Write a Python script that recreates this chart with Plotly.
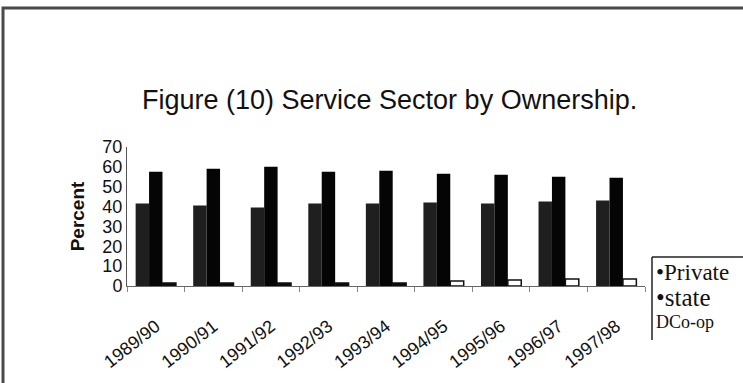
import plotly.graph_objects as go

years = ["1989/90", "1990/91", "1991/92", "1992/93", "1993/94",
         "1994/95", "1995/96", "1996/97", "1997/98"]
private = [41.5, 40.5, 39.5, 41.5, 41.5, 42, 41.5, 42.5, 43]
state = [57.5, 59, 60, 57.5, 58, 56.5, 56, 55, 54.5]
coop = [1.5, 1.5, 1.5, 1.5, 1.5, 2.5, 3, 3.5, 3.5]
coop_colors = ["#0a0a0a"] * 5 + ["#ffffff"] * 4
legend_labels = ["\u2022Private", "\u2022state", "DCo-op"]
yticks = [0, 10, 20, 30, 40, 50, 60, 70]

W, H = 743, 383
L, R, T, B = 127, 645, 147, 286


def px(x):
    return (x - L) / (R - L)


def py(y):
    return (B - y) / (B - T)


fig = go.Figure()
fig.add_trace(go.Bar(x=years, y=private, name="Private",
                     marker=dict(color="#1f1f1f", line=dict(width=0))))
fig.add_trace(go.Bar(x=years, y=state, name="state",
                     marker=dict(color="#050505", line=dict(width=0))))
fig.add_trace(go.Bar(x=years, y=coop, name="Co-op",
                     marker=dict(color=coop_colors,
                                 line=dict(color="#111111", width=1.5))))

shapes = [
    dict(type="rect", xref="paper", yref="paper",
         x0=px(3), x1=px(760), y0=py(400), y1=py(8),
         line=dict(color="#4a4a4a", width=3), fillcolor="rgba(0,0,0,0)",
         layer="below"),
    dict(type="line", xref="paper", yref="paper",
         x0=px(652), x1=px(652), y0=py(257), y1=py(340),
         line=dict(color="#222222", width=1.5)),
    dict(type="line", xref="paper", yref="paper",
         x0=px(652), x1=px(760), y0=py(257), y1=py(257),
         line=dict(color="#222222", width=1.5)),
]

annotations = [
    dict(text="Figure (10) Service Sector by Ownership.", xref="paper", yref="paper",
         x=px(389), y=py(100), showarrow=False, xanchor="center", yanchor="middle",
         font=dict(family="Liberation Sans, Arial", size=27, color="#111111")),
]
leg_y = [272, 297, 322]
leg_sizes = [23, 25, 18]
for lab, yy, sz in zip(legend_labels, leg_y, leg_sizes):
    annotations.append(dict(text=lab, xref="paper", yref="paper",
                            x=px(654), y=py(yy), showarrow=False,
                            xanchor="left", yanchor="middle",
                            font=dict(family="Liberation Serif, Times New Roman",
                                      size=sz, color="#111111")))

fig.update_layout(
    width=W, height=H,
    margin=dict(l=L, r=W - R, t=T, b=H - B),
    paper_bgcolor="white", plot_bgcolor="white",
    barmode="group", bargap=0.3, bargroupgap=0,
    showlegend=False,
    shapes=shapes, annotations=annotations,
    xaxis=dict(type="category", showgrid=False, showline=True,
               linecolor="#666666", linewidth=1,
               ticks="outside", tickson="boundaries", ticklen=5,
               tickcolor="#888888", tickangle=-38, ticklabelstandoff=22,
               tickfont=dict(family="Liberation Sans, Arial", size=18, color="#111111")),
    yaxis=dict(range=[0, 70], tickvals=yticks, showgrid=False, zeroline=False,
               showline=True, linecolor="#555555", linewidth=1, ticks="",
               ticklabelstandoff=0,
               tickfont=dict(family="Liberation Sans, Arial", size=18, color="#111111"),
               title=dict(text="<b>Percent</b>", standoff=12,
                          font=dict(family="Liberation Sans, Arial", size=19,
                                    color="#111111"))),
)

fig.write_html("out.html")
